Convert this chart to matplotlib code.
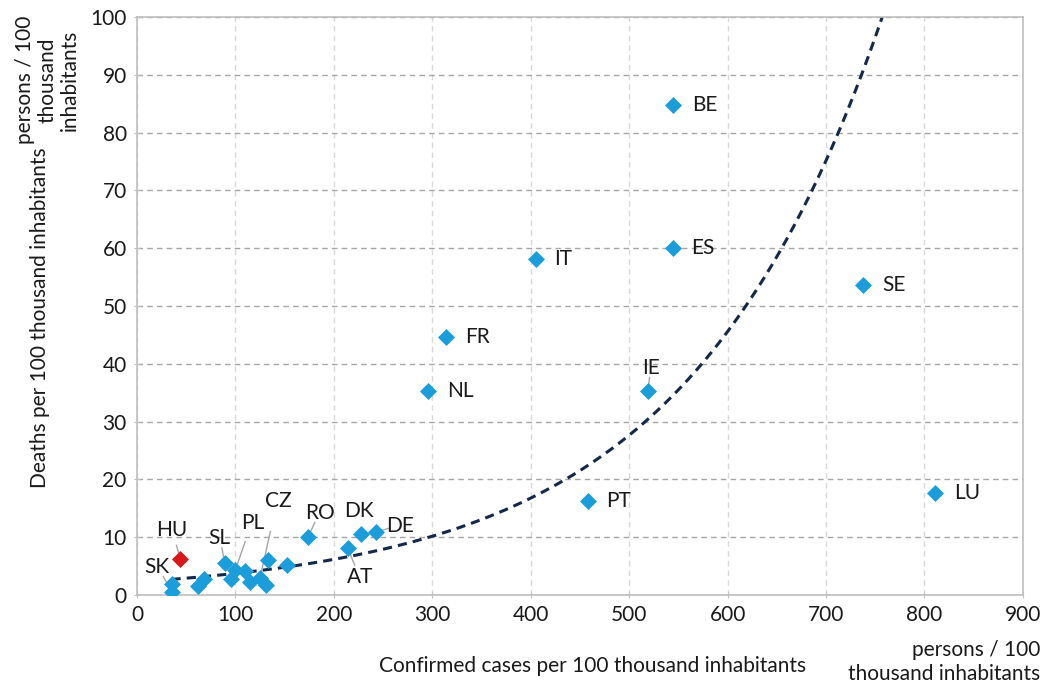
import numpy as np
import matplotlib.pyplot as plt

plt.rcParams['font.family'] = ['Lato', 'DejaVu Sans']

# Confirmed cases and deaths per 100 thousand inhabitants
labeled = ["BE", "ES", "IT", "SE", "FR", "NL", "IE", "PT", "LU", "RO", "DK", "DE", "AT", "SK", "SL", "PL", "CZ"]
cases = [545, 544, 405, 738, 314, 296, 519, 458, 811, 174, 228, 243, 214, 35, 89, 100, 125]
deaths = [84.8, 60.0, 58.1, 53.6, 44.6, 35.3, 35.3, 16.3, 17.6, 10.1, 10.6, 10.9, 8.1, 0.6, 5.5, 4.4, 3.0]

# unlabeled countries in the cluster
other_cases = [36, 62, 68, 95, 110, 115, 131, 133, 152]
other_deaths = [1.9, 1.6, 2.7, 2.8, 4.1, 2.2, 1.7, 6.0, 5.2]

hu_cases = [44]
hu_deaths = [6.2]

# exponential trend y = a * exp(b * x)
trend_a = 2.27
trend_b = 0.0050
trend_start = 35

fig = plt.figure(figsize=(10.47, 6.89), dpi=100)
ax = fig.add_axes([0.1309, 0.1364, 0.8461, 0.8389])

blue = "#1B9DDB"
ax.scatter(cases + other_cases, deaths + other_deaths, marker="D", s=75, color=blue, zorder=3, linewidths=0)
ax.scatter(hu_cases, hu_deaths, marker="D", s=75, color="#D7191C", zorder=3, linewidths=0)

xs = np.linspace(trend_start, 800, 400)
ax.plot(xs, trend_a * np.exp(trend_b * xs), color="#14284B", lw=2.2, ls=(0, (3, 2)), zorder=2)

# label offsets (dx, dy) in data units, and whether a leader line is drawn
offsets = {
    "BE": (19, 0, False), "ES": (19, 0, False), "IT": (19, 0, False), "SE": (19, 0, False),
    "FR": (19, 0, False), "NL": (19, 0, False), "IE": (3, 3.9, True), "PT": (19, 0, False),
    "LU": (19, 0, False), "RO": (12, 4.1, True), "DK": (-3, 3.9, False), "DE": (24, 1.1, True),
    "AT": (13, -4.9, True), "SK": (-15, 4.3, True), "SL": (-5, 4.4, True), "PL": (18, 8.1, True),
    "CZ": (19, 13.3, True),
}
for name, x, y in zip(labeled, cases, deaths):
    dx, dy, line = offsets[name]
    tx, ty = x + dx, y + dy
    if line:
        ax.plot([x, x + dx * 0.55], [y, y + dy * 0.6], color="#A6A6A6", lw=1, zorder=2.5)
    ax.text(tx, ty, name, fontsize=15, ha="left" if not line and dx > 10 else "center",
            va="center", color="#1A1A1A", zorder=4)

ax.plot([hu_cases[0], hu_cases[0] - 4], [hu_deaths[0], hu_deaths[0] + 2.4], color="#A6A6A6", lw=1, zorder=2.5)
ax.text(hu_cases[0] - 8.5, hu_deaths[0] + 5.0, "HU", fontsize=15, ha="center", va="center", color="#1A1A1A")

ax.set_xlim(0, 900)
ax.set_ylim(0, 100)
ax.set_xticks(range(0, 901, 100))
ax.set_yticks(range(0, 101, 10))
ax.tick_params(labelsize=15, colors="#BFBFBF", labelcolor="#1A1A1A", length=5, direction="inout", pad=5)
ax.xaxis.grid(True, color="#D9D9D9", ls=(0, (4, 3)), lw=1)
ax.yaxis.grid(True, color="#A6A6A6", ls=(0, (4, 3)), lw=1)
ax.set_axisbelow(True)
for s in ax.spines.values():
    s.set_color("#BFBFBF")
    s.set_linewidth(1.2)

ax.set_xlabel("Confirmed cases per 100 thousand inhabitants", fontsize=15, color="#1A1A1A")
ax.xaxis.set_label_coords(0.514, -0.105)
ax.set_ylabel("Deaths per 100 thousand inhabitants", fontsize=15, color="#1A1A1A")
ax.yaxis.set_label_coords(-0.098, 0.48)

fig.text(0.994, 0.039, "persons / 100\nthousand inhabitants", fontsize=15, ha="right", va="center",
         color="#1A1A1A", linespacing=1.25, multialignment="right")
fig.text(0.045, 0.884, "persons / 100\nthousand\ninhabitants", fontsize=15, ha="center", va="center",
         rotation=90, color="#1A1A1A", linespacing=1.15, multialignment="center")

fig.savefig("out.png", dpi=100)
